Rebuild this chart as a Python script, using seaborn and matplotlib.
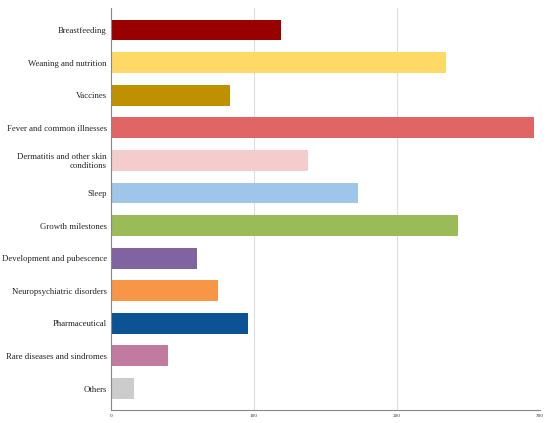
import matplotlib
matplotlib.use("Agg")
import matplotlib.pyplot as plt
import seaborn as sns
import pandas as pd

# Topics and number of questions per topic
categories = [
    "Breastfeeding",
    "Weaning and nutrition",
    "Vaccines",
    "Fever and common illnesses",
    "Dermatitis and other skin\nconditions",
    "Sleep",
    "Growth milestones",
    "Development and pubescence",
    "Neuropsychiatric disorders",
    "Pharmaceutical",
    "Rare diseases and sindromes",
    "Others",
]
counts = [119, 234, 83, 296, 138, 173, 243, 60, 75, 96, 40, 16]
colors = [
    "#990000", "#FFD966", "#BF9000", "#E06666", "#F4CCCC", "#9FC5E8",
    "#9BBB59", "#8064A2", "#F79646", "#0B5394", "#C27BA0", "#CCCCCC",
]
x_ticks = [0, 100, 200, 300]

df = pd.DataFrame({"Category": categories, "Count": counts})

sns.set_style("white")
plt.rcParams["font.family"] = ["Liberation Serif", "DejaVu Serif"]

fig = plt.figure(figsize=(5.5, 4.23), dpi=100)
ax = fig.add_axes([0.2018, 0.0307, 0.78, 0.950])

sns.barplot(data=df, x="Count", y="Category", hue="Category",
            palette=colors, legend=False, width=0.64, ax=ax,
            edgecolor="none", saturation=1)

ax.set_xlim(0, 300)
ax.set_ylim(11.66, -0.67)
ax.set_xticks(x_ticks)
ax.set_xticklabels([str(t) for t in x_ticks], fontsize=3.8, color="#333333")
ax.tick_params(axis="y", labelsize=6.3, length=0, pad=3, colors="#222222")
ax.tick_params(axis="x", length=0, pad=3)
for lbl in ax.get_yticklabels():
    lbl.set_horizontalalignment("right")
    lbl.set_multialignment("right")
    lbl.set_linespacing(1.15)

ax.xaxis.grid(True, color="#dddddd", linewidth=0.8)
ax.set_axisbelow(True)
ax.set_xlabel("")
ax.set_ylabel("")
for side in ["top", "right"]:
    ax.spines[side].set_visible(False)
ax.spines["left"].set_color("#888888")
ax.spines["bottom"].set_color("#888888")
ax.spines["left"].set_linewidth(0.8)
ax.spines["bottom"].set_linewidth(0.8)

fig.savefig("out.png", dpi=100)
